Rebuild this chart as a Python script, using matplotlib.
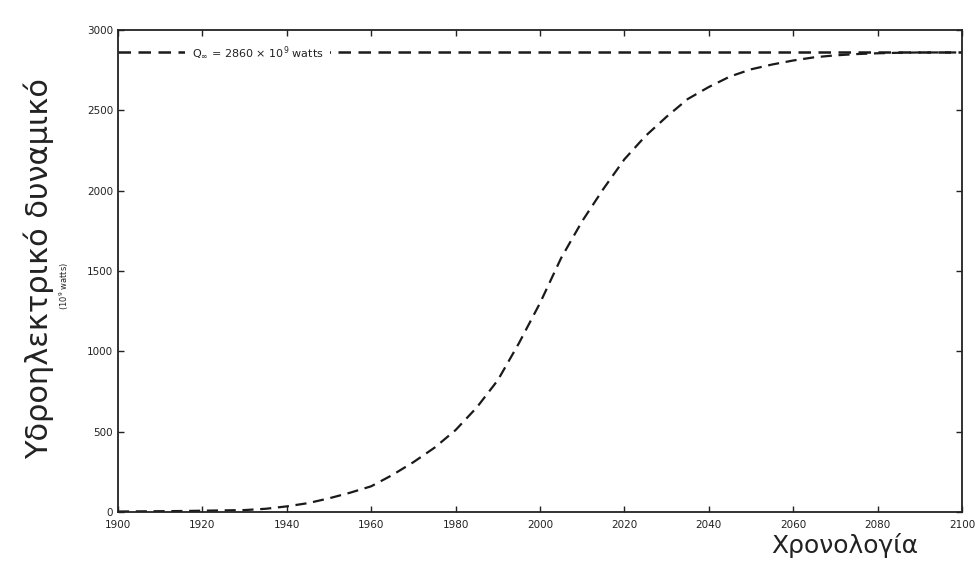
import matplotlib.pyplot as plt

# hydroelectric potential (10^9 watts)
years = [1900, 1905, 1910, 1915, 1920, 1925, 1930, 1935, 1940, 1945,
         1950, 1955, 1960, 1965, 1970, 1975, 1980, 1985, 1990, 1995,
         2000, 2005, 2010, 2015, 2020, 2025, 2030, 2035, 2040, 2045,
         2050, 2055, 2060, 2065, 2070, 2075, 2080, 2085, 2090, 2095, 2100]
power = [3, 4, 5, 6, 8, 10, 12, 20, 35, 55,
         85, 120, 160, 230, 310, 400, 510, 650, 820, 1050,
         1300, 1580, 1810, 2010, 2195, 2340, 2460, 2570, 2645, 2710,
         2755, 2785, 2810, 2830, 2842, 2850, 2855, 2858, 2860, 2860, 2860]
q_inf = 2860

x_ticks = list(range(1900, 2101, 20))
y_ticks = list(range(0, 3001, 500))


def plot():
    fig = plt.figure(figsize=(9.8, 5.72), dpi=100)
    ax = fig.add_axes([0.1204, 0.1049, 0.8612, 0.8427])

    ax.plot(years, power, color='#1a1a1a', lw=1.6, dashes=(5, 3))
    ax.axhline(q_inf, color='#1a1a1a', lw=1.8, dashes=(5, 3))
    ax.text(1917.5, q_inf, r'Q$_\infty$ = 2860 $\times$ 10$^9$ watts',
            fontsize=8, va='center', ha='left', color='#222222',
            bbox=dict(facecolor='white', edgecolor='none', pad=5))

    ax.set_xlim(1900, 2100)
    ax.set_ylim(0, 3000)
    ax.set_xticks(x_ticks)
    ax.set_yticks(y_ticks)
    ax.tick_params(direction='in', top=True, right=True, length=4,
                   width=1, labelsize=7.5, colors='#222222')
    ax.tick_params(axis='x', pad=6)
    for s in ax.spines.values():
        s.set_linewidth(1.3)
        s.set_color('#222222')

    fig.text(0.040, 0.53, 'Υδροηλεκτρικό δυναμικό', rotation=90,
             fontsize=22, ha='center', va='center', color='#222222')
    fig.text(0.066, 0.50, '(10$^9$ watts)', rotation=90,
             fontsize=6, ha='center', va='center', color='#222222')
    fig.text(0.862, 0.047, 'Χρονολογία', fontsize=18,
             ha='center', va='center', color='#222222')

    fig.savefig('out.png', dpi=100)


if __name__ == "__main__":
    plot()
